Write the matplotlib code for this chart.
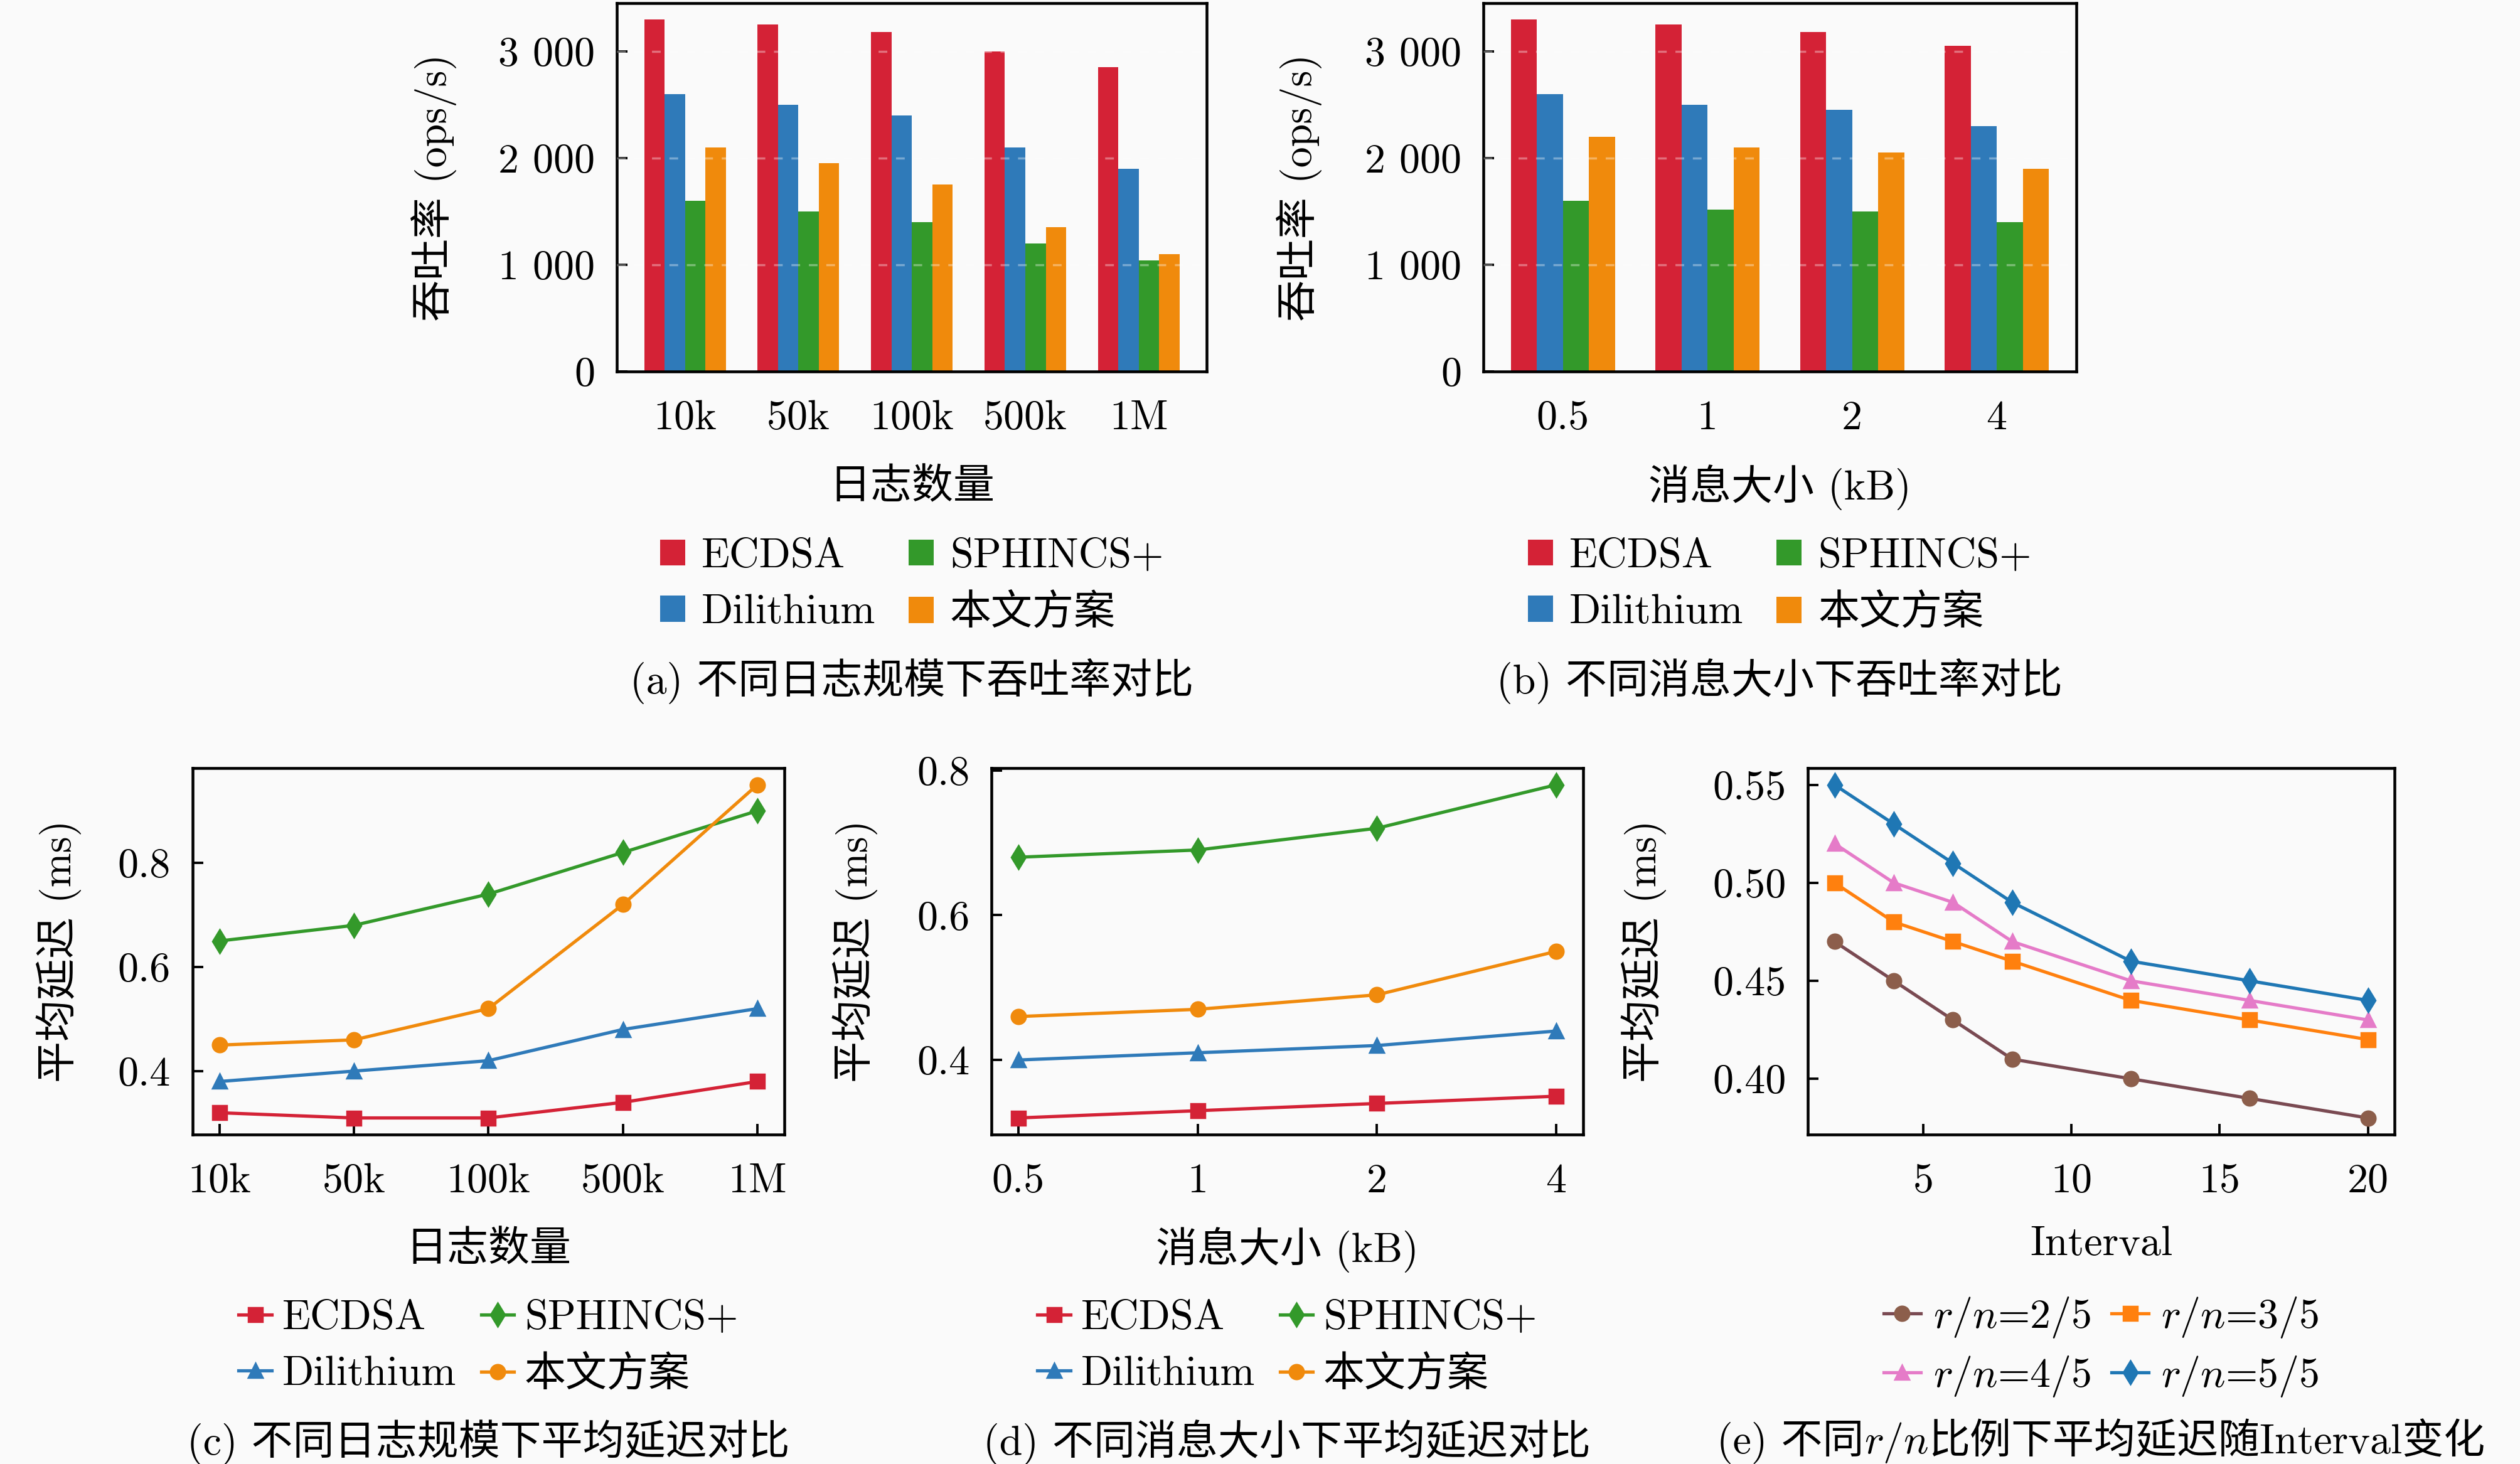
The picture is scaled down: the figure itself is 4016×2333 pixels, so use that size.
import matplotlib
matplotlib.use('Agg')
import matplotlib.pyplot as plt  # 绘图
import numpy as np  # 数值运算

# 字体: 西文用 Computer Modern, 中文回退到 Noto Sans CJK
plt.rcParams['font.family'] = ['cmr10', 'Noto Sans CJK SC']
plt.rcParams['mathtext.fontset'] = 'cm'
plt.rcParams['axes.formatter.use_mathtext'] = True
plt.rcParams['font.size'] = 19
plt.rcParams['axes.unicode_minus'] = False

# ---------------- 数据 ----------------
schemes = ['ECDSA', 'Dilithium', 'SPHINCS+', '本文方案']
log_sizes = ['10k', '50k', '100k', '500k', '1M']
msg_sizes = ['0.5', '1', '2', '4']

# (a) 不同日志规模下吞吐率 (ops/s)
tp_log_ecdsa = [3300, 3250, 3180, 3000, 2850]
tp_log_dil = [2600, 2500, 2400, 2100, 1900]
tp_log_sph = [1600, 1500, 1400, 1200, 1040]
tp_log_ours = [2100, 1950, 1750, 1350, 1100]

# (b) 不同消息大小下吞吐率 (ops/s)
tp_msg_ecdsa = [3300, 3250, 3180, 3050]
tp_msg_dil = [2600, 2500, 2450, 2300]
tp_msg_sph = [1600, 1520, 1500, 1400]
tp_msg_ours = [2200, 2100, 2050, 1900]

# (c) 不同日志规模下平均延迟 (ms)
lat_log_ecdsa = [0.32, 0.31, 0.31, 0.34, 0.38]
lat_log_dil = [0.38, 0.40, 0.42, 0.48, 0.52]
lat_log_sph = [0.65, 0.68, 0.74, 0.82, 0.90]
lat_log_ours = [0.45, 0.46, 0.52, 0.72, 0.95]

# (d) 不同消息大小下平均延迟 (ms)
lat_msg_ecdsa = [0.32, 0.33, 0.34, 0.35]
lat_msg_dil = [0.40, 0.41, 0.42, 0.44]
lat_msg_sph = [0.68, 0.69, 0.72, 0.78]
lat_msg_ours = [0.46, 0.47, 0.49, 0.55]

# (e) 不同 r/n 比例下平均延迟随 Interval 变化
interval = [2, 4, 6, 8, 12, 16, 20]
lat_rn_2 = [0.47, 0.45, 0.43, 0.41, 0.40, 0.39, 0.38]
lat_rn_3 = [0.50, 0.48, 0.47, 0.46, 0.44, 0.43, 0.42]
lat_rn_4 = [0.52, 0.50, 0.49, 0.47, 0.45, 0.44, 0.43]
lat_rn_5 = [0.55, 0.53, 0.51, 0.49, 0.46, 0.45, 0.44]
rn_labels = ['$r/n$=2/5', '$r/n$=3/5', '$r/n$=4/5', '$r/n$=5/5']

# ---------------- 样式 ----------------
colors = ['#d42236', '#2f7ab9', '#33992a', '#f08a0c']
markers = ['s', '^', 'd', 'o']
rn_colors = ['#8c5e4b', '#ff800e', '#e57bc8', '#1f77b4']
rn_line_colors = ['#7a4a52', '#ff800e', '#e57bc8', '#1f77b4']
rn_markers = ['o', 's', '^', 'd']
bg = '#fafafa'

fig = plt.figure(figsize=(4016 / 250, 2333 / 250), dpi=250, facecolor=bg)

ax_a = fig.add_axes([0.2448, 0.7462, 0.2341, 0.2516])
ax_b = fig.add_axes([0.5886, 0.7462, 0.2353, 0.2516])
ax_c = fig.add_axes([0.0764, 0.2250, 0.2348, 0.2503])
ax_d = fig.add_axes([0.3934, 0.2250, 0.2348, 0.2503])
ax_e = fig.add_axes([0.7174, 0.2250, 0.2328, 0.2503])

CAP_Y = -0.84
LEG_Y = -0.58
XLAB_Y = -0.315


def style_axes(ax):
    ax.set_facecolor(bg)
    for s in ax.spines.values():
        s.set_linewidth(1.3)
    ax.tick_params(direction='in', length=5, width=1.1, top=False, right=False)
    ax.tick_params(axis='x', pad=13)
    ax.tick_params(axis='y', pad=10)


def add_caption(ax, text):
    ax.text(0.5, CAP_Y, text, transform=ax.transAxes, ha='center', va='center')


def thousands(v):
    return '{:,}'.format(int(v)).replace(',', ' ')


# ---- 柱状图 (a)(b) ----
def bar_panel(ax, cats, series, xlabel, caption, pad_x):
    style_axes(ax)
    x = np.arange(len(cats))
    w = 0.18
    offsets = (np.arange(len(series)) - 1.5) * w
    for vals, off, c, name in zip(series, offsets, colors, schemes):
        ax.bar(x + off, vals, width=w, color=c, label=name, zorder=2)
    ax.set_xticks(x)
    ax.set_xticklabels(cats)
    ax.set_xlim(-pad_x, len(cats) - 1 + pad_x)
    ax.set_ylim(0, 3450)
    yt = [0, 1000, 2000, 3000]
    ax.set_yticks(yt)
    ax.set_yticklabels([thousands(v) for v in yt])
    # 柱体上的浅色虚线网格
    for v in yt[1:]:
        ax.axhline(v, color='white', lw=1.0, ls=(0, (4, 4)), alpha=0.35, zorder=3)
    ax.set_xlabel(xlabel, va='center')
    ax.xaxis.set_label_coords(0.5, XLAB_Y)
    ax.set_ylabel('吞吐率 (ops/s)', va='center')
    ax.yaxis.set_label_coords(-0.31, 0.5)
    ax.legend(loc='center', bbox_to_anchor=(0.5, LEG_Y), ncol=2, frameon=False,
              handlelength=0.6, handleheight=0.6, handletextpad=0.4,
              columnspacing=0.8, labelspacing=0.45, borderaxespad=0)
    add_caption(ax, caption)


bar_panel(ax_a, log_sizes, [tp_log_ecdsa, tp_log_dil, tp_log_sph, tp_log_ours],
          '日志数量', '(a) 不同日志规模下吞吐率对比', 0.6)
bar_panel(ax_b, msg_sizes, [tp_msg_ecdsa, tp_msg_dil, tp_msg_sph, tp_msg_ours],
          '消息大小 (kB)', '(b) 不同消息大小下吞吐率对比', 0.55)


# ---- 折线图 (c)(d) ----
def line_panel(ax, cats, series, xlabel, caption, ylab_x):
    style_axes(ax)
    x = np.arange(len(cats))
    for vals, c, m, name in zip(series, colors, markers, schemes):
        ms = 7.5 if m == 'd' else 6.5
        ax.plot(x, vals, color=c, marker=m, ms=ms, lw=1.5, label=name)
    ax.set_xticks(x)
    ax.set_xticklabels(cats)
    ax.set_yticks([0.4, 0.6, 0.8])
    ax.set_yticklabels(['0.4', '0.6', '0.8'])
    ax.set_xlabel(xlabel, va='center')
    ax.xaxis.set_label_coords(0.5, XLAB_Y)
    ax.set_ylabel('平均延迟 (ms)', va='center')
    ax.yaxis.set_label_coords(ylab_x, 0.5)
    ax.legend(loc='center', bbox_to_anchor=(0.5, LEG_Y), ncol=2, frameon=False,
              handlelength=0.8, handletextpad=0.25, numpoints=1,
              columnspacing=0.6, labelspacing=0.45, borderaxespad=0)
    add_caption(ax, caption)


line_panel(ax_c, log_sizes, [lat_log_ecdsa, lat_log_dil, lat_log_sph, lat_log_ours],
           '日志数量', '(c) 不同日志规模下平均延迟对比', -0.226)
line_panel(ax_d, msg_sizes, [lat_msg_ecdsa, lat_msg_dil, lat_msg_sph, lat_msg_ours],
           '消息大小 (kB)', '(d) 不同消息大小下平均延迟对比', -0.23)

# ---- 折线图 (e) ----
style_axes(ax_e)
rn_series = [lat_rn_2, lat_rn_3, lat_rn_4, lat_rn_5]
handles = []
for vals, c, lc, m, name in zip(rn_series, rn_colors, rn_line_colors, rn_markers, rn_labels):
    ms = 7.5 if m == 'd' else 6.5
    h, = ax_e.plot(interval, vals, color=lc, marker=m, ms=ms, mfc=c, mec=c,
                   lw=1.5, label=name)
    handles.append(h)
ax_e.set_xticks([5, 10, 15, 20])
ax_e.set_xticklabels(['5', '10', '15', '20'])
ax_e.set_yticks([0.40, 0.45, 0.50, 0.55])
ax_e.set_yticklabels(['0.40', '0.45', '0.50', '0.55'])
ax_e.set_xlabel('Interval', va='center')
ax_e.xaxis.set_label_coords(0.5, -0.30)
ax_e.set_ylabel('平均延迟 (ms)', va='center')
ax_e.yaxis.set_label_coords(-0.28, 0.5)
# 按列填充: 第一行 2/5, 3/5; 第二行 4/5, 5/5
order = [0, 2, 1, 3]
ax_e.legend([handles[i] for i in order], [rn_labels[i] for i in order],
            loc='center', bbox_to_anchor=(0.5, LEG_Y), ncol=2, frameon=False,
            handlelength=0.9, handletextpad=0.3, numpoints=1,
            columnspacing=0.5, labelspacing=0.35, borderaxespad=0)

# (e) 的标题含斜体 r/n, 分三段拼接并整体居中 (mathtext 不支持中文回退)
parts = ['(e) 不同', '$r/n$', '比例下平均延迟随Interval变化']
renderer = fig.canvas.get_renderer()
texts = [ax_e.text(0, 0, p, transform=ax_e.transAxes, ha='left', va='baseline')
         for p in parts]
widths = [t.get_window_extent(renderer).width for t in texts]
ax_box = ax_e.get_window_extent(renderer)
total = sum(widths)
x0 = ax_box.x0 + ax_box.width / 2 - total / 2
y_base = ax_box.y0 + (CAP_Y - 0.03) * ax_box.height
for t, w in zip(texts, widths):
    xa = (x0 - ax_box.x0) / ax_box.width
    ya = (y_base - ax_box.y0) / ax_box.height
    t.set_position((xa, ya))
    x0 += w

fig.savefig('out.png', dpi=250, facecolor=bg)
